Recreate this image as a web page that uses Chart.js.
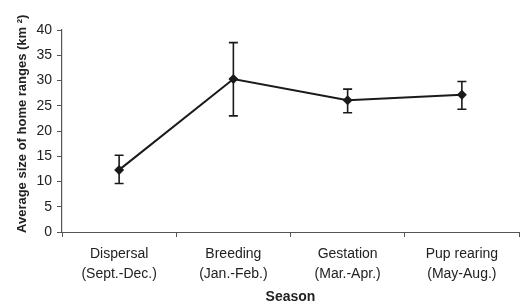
<!DOCTYPE html>
<html>
<head>
<meta charset="utf-8">
<script src="https://cdn.jsdelivr.net/npm/chart.js@4"></script>
<style>
  html, body { margin: 0; padding: 0; background: #fff; }
  #wrap { width: 524px; height: 306px; }
</style>
</head>
<body>
<div id="wrap"><canvas id="c" width="524" height="306"></canvas></div>
<script>
const seasons = [
  ['Dispersal', '(Sept.-Dec.)'],
  ['Breeding', '(Jan.-Feb.)'],
  ['Gestation', '(Mar.-Apr.)'],
  ['Pup rearing', '(May-Aug.)'],
];
const meanRange = [12.3, 30.3, 26.1, 27.2];
const errHigh   = [15.2, 37.5, 28.3, 29.8];
const errLow    = [9.6, 23.0, 23.6, 24.3];
const yTicks    = [0, 5, 10, 15, 20, 25, 30, 35, 40];

const INK = '#1a1a1a';
const AXIS = '#555';

const errorBars = {
  id: 'errorBars',
  beforeDatasetsDraw(chart) {
    const { ctx, scales: { x, y } } = chart;
    ctx.save();
    ctx.strokeStyle = INK;
    ctx.lineWidth = 1.6;
    meanRange.forEach((_, i) => {
      const px = x.getPixelForValue(i);
      const top = y.getPixelForValue(errHigh[i]);
      const bot = y.getPixelForValue(errLow[i]);
      ctx.beginPath();
      ctx.moveTo(px, top); ctx.lineTo(px, bot);
      ctx.moveTo(px - 4.5, top); ctx.lineTo(px + 4.5, top);
      ctx.moveTo(px - 4.5, bot); ctx.lineTo(px + 4.5, bot);
      ctx.stroke();
    });
    ctx.restore();
  },
};

new Chart(document.getElementById('c'), {
  type: 'line',
  data: {
    labels: seasons,
    datasets: [{
      data: meanRange,
      borderColor: INK, backgroundColor: INK,
      borderWidth: 2, pointStyle: 'rectRot', pointRadius: 5,
      pointBorderWidth: 0, tension: 0,
    }],
  },
  options: {
    responsive: false, animation: false,
    layout: { padding: { top: 30, right: 5, left: 0, bottom: 0 } },
    plugins: { legend: { display: false }, tooltip: { enabled: false } },
    scales: {
      x: {
        offset: true,
        grid: { offset: true, drawOnChartArea: false, tickLength: 5, color: AXIS },
        border: { color: AXIS, width: 1 },
        ticks: { color: '#222', padding: 7, maxRotation: 0,
                 font: { family: 'Liberation Sans', size: 14, lineHeight: 1.45 } },
        title: { display: true, text: 'Season', color: '#222', padding: { top: 0, bottom: 0 },
                 font: { family: 'Liberation Sans', size: 14, weight: 'bold' } },
        afterFit(s) { s.height = 74; },
      },
      y: {
        min: 0, max: 40,
        afterBuildTicks(s) { s.ticks = yTicks.map(v => ({ value: v })); },
        grid: { drawOnChartArea: false, tickLength: 5, color: AXIS },
        border: { color: AXIS, width: 1.2 },
        ticks: { color: '#222', padding: 5,
                 font: { family: 'Liberation Sans', size: 14 } },
        // leading spaces nudge the rotated title up a little, as in the original
        title: { display: true, text: '    Average size of home ranges (km \u00b2)', color: '#222',
                 padding: { top: 15, bottom: 0 },
                 font: { family: 'Liberation Sans', size: 13, weight: 'bold' } },
        afterFit(s) { s.width = 62; },
      },
    },
  },
  plugins: [errorBars],
});
</script>
</body>
</html>
